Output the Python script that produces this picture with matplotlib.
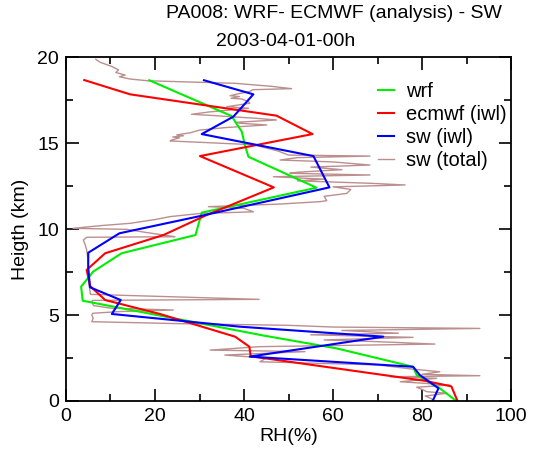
import matplotlib
matplotlib.use("Agg")
import matplotlib.pyplot as plt
from matplotlib.ticker import MultipleLocator

plt.rcParams['font.family'] = ['Liberation Sans', 'DejaVu Sans']

# WRF profile (height km, RH %)
wrf_h = [18.65, 16.57, 15.66, 14.88, 14.2, 12.4, 10.95, 9.65, 8.59, 7.52, 6.65, 5.83,
         3.8, 3.06, 1.99, 1.51, 0.74, 0.06]
wrf_rh = [18.7, 37.2, 39.5, 40.2, 41.0, 56.3, 30.5, 29.1, 12.5, 6.1, 3.4, 3.75,
          44.5, 60.8, 78.0, 78.8, 84.0, 87.4]

# ECMWF analysis on its model levels
ecmwf_h = [18.66, 17.83, 16.59, 15.52, 14.24, 12.42, 10.8, 9.65, 8.59, 7.62, 6.69, 5.87,
           5.06, 3.74, 3.16, 2.6, 1.17, 0.85, 0.05]
ecmwf_rh = [4.1, 14.4, 47.3, 55.4, 30.1, 46.7, 31.5, 21.9, 8.8, 4.65, 5.4, 8.8,
            21.1, 38.0, 41.2, 41.5, 80.7, 86.6, 87.9]

# Sounding interpolated to model levels
swiwl_h = [18.65, 17.83, 16.53, 15.52, 14.24, 12.42, 10.8, 9.75, 8.62, 7.71, 6.61, 5.87,
           5.06, 4.32, 3.74, 2.58, 1.99, 1.51, 0.74, 0.06]
swiwl_rh = [31.0, 42.1, 37.6, 30.5, 55.6, 59.2, 31.0, 12.0, 5.0, 5.0, 5.4, 12.3,
            10.3, 39.1, 71.3, 41.3, 78.0, 79.5, 83.7, 82.5]

# Full-resolution sounding
swtot_h = [19.87, 19.7, 19.45, 19.25, 19.1, 18.95, 18.85, 18.72, 18.62, 18.47, 18.3, 18.16,
           18.1, 18.0, 17.85, 17.75, 17.7, 17.6, 17.56, 17.4, 17.31, 17.11, 17.02, 16.8,
           16.67, 16.6, 16.53, 16.45, 16.34, 16.2, 16.15, 16.05, 15.9, 15.75, 15.6, 15.47,
           15.42, 15.35, 15.3, 15.17, 15.12, 14.9, 14.53, 14.3, 14.24, 14.15, 14.01, 13.9,
           13.72, 13.6, 13.45, 13.3, 13.24, 13.14, 13.04, 12.9, 12.8, 12.66, 12.56, 12.45,
           12.3, 12.07, 11.9, 11.65, 11.59, 11.45, 11.3, 11.2, 11.0, 10.9, 10.72, 10.55,
           10.33, 10.2, 10.04, 9.98, 9.8, 9.55, 9.52, 9.36, 9.1, 8.78, 8.3, 7.81,
           7.2, 6.65, 6.2, 5.91, 5.85, 5.77, 5.55, 5.4, 5.29, 5.2, 5.1, 5.0,
           4.81, 4.61, 4.5, 4.4, 4.3, 4.22, 4.1, 3.94, 3.85, 3.7, 3.55, 3.45,
           3.31, 3.16, 2.96, 2.87, 2.67, 2.5, 2.28, 2.1, 1.85, 1.7, 1.55, 1.47,
           1.41, 1.32, 1.12, 0.93, 0.8, 0.64, 0.54, 0.45, 0.29, 0.15, 0.06]
swtot_rh = [6.7, 7.6, 10.3, 11.8, 11.2, 13.3, 12.0, 14.4, 18.3, 38.0, 46.0, 50.7,
            42.0, 41.3, 38.5, 36.9, 39.0, 37.1, 39.5, 41.0, 41.3, 36.1, 41.0, 32.0,
            28.2, 33.0, 36.9, 42.0, 47.3, 38.0, 39.1, 45.1, 36.0, 30.0, 28.0, 24.9,
            26.4, 24.0, 25.5, 23.7, 23.4, 42.1, 47.7, 50.0, 68.3, 52.0, 48.1, 60.0,
            68.3, 55.0, 62.0, 52.0, 50.3, 68.3, 46.6, 58.0, 52.0, 68.3, 76.2, 60.0,
            64.0, 63.1, 58.0, 58.6, 57.1, 48.0, 32.0, 40.0, 42.1, 30.0, 23.4, 20.0,
            14.4, 8.0, 1.6, 13.6, 18.0, 24.5, 4.65, 3.9, 4.3, 4.65, 4.9, 5.0,
            5.1, 5.25, 5.5, 43.4, 6.0, 5.8, 6.2, 10.0, 24.1, 12.0, 6.0, 5.8,
            6.1, 5.8, 25.0, 50.0, 60.0, 93.0, 62.0, 74.7, 55.0, 78.0, 58.0, 70.0,
            82.9, 43.6, 32.4, 53.7, 35.7, 45.0, 43.6, 70.0, 78.0, 84.0, 80.0, 93.0,
            72.8, 83.3, 75.1, 86.3, 78.8, 80.3, 81.1, 85.6, 80.7, 82.0, 82.5]

title_main = 'PA008: WRF- ECMWF (analysis) - SW'
title_date = '2003-04-01-00h'

fig = plt.figure(figsize=(5.37, 4.5), dpi=100)
ax = fig.add_axes([0.1229, 0.1089, 0.8287, 0.7644])

l_tot, = ax.plot(swtot_rh, swtot_h, color='#bc8f8f', lw=1.0, label='sw (total)')
l_wrf, = ax.plot(wrf_rh, wrf_h, color='#00ee00', lw=1.5, label='wrf')
l_ec, = ax.plot(ecmwf_rh, ecmwf_h, color='#ff0000', lw=1.5, label='ecmwf (iwl)')
l_sw, = ax.plot(swiwl_rh, swiwl_h, color='#0000ff', lw=1.5, label='sw (iwl)')

ax.set_xlim(0, 100)
ax.set_ylim(0, 20)
ax.xaxis.set_major_locator(MultipleLocator(20))
ax.xaxis.set_minor_locator(MultipleLocator(10))
ax.yaxis.set_major_locator(MultipleLocator(5))
ax.yaxis.set_minor_locator(MultipleLocator(2.5))
ax.tick_params(which='both', direction='in', top=True, right=True,
               labelsize=14, width=1.2, pad=5)
ax.tick_params(which='major', length=9)
ax.tick_params(which='minor', length=5)
for s in ax.spines.values():
    s.set_linewidth(1.3)

ax.set_xlabel('RH(%)', fontsize=14, labelpad=2)
ax.set_ylabel('Heigth (km)', fontsize=14, labelpad=6)

# two-line heading
fig.text(0.622, 0.969, title_main, fontsize=14, ha='center', va='center')
fig.text(0.531, 0.907, title_date, fontsize=14, ha='center', va='center')

ax.legend(handles=[l_wrf, l_ec, l_sw, l_tot], loc='upper left',
          bbox_to_anchor=(0.70, 0.928), frameon=False, fontsize=14.5,
          handlelength=0.8, handletextpad=0.6, labelspacing=0.2,
          borderpad=0, borderaxespad=0)

fig.savefig('out.png', dpi=100)
